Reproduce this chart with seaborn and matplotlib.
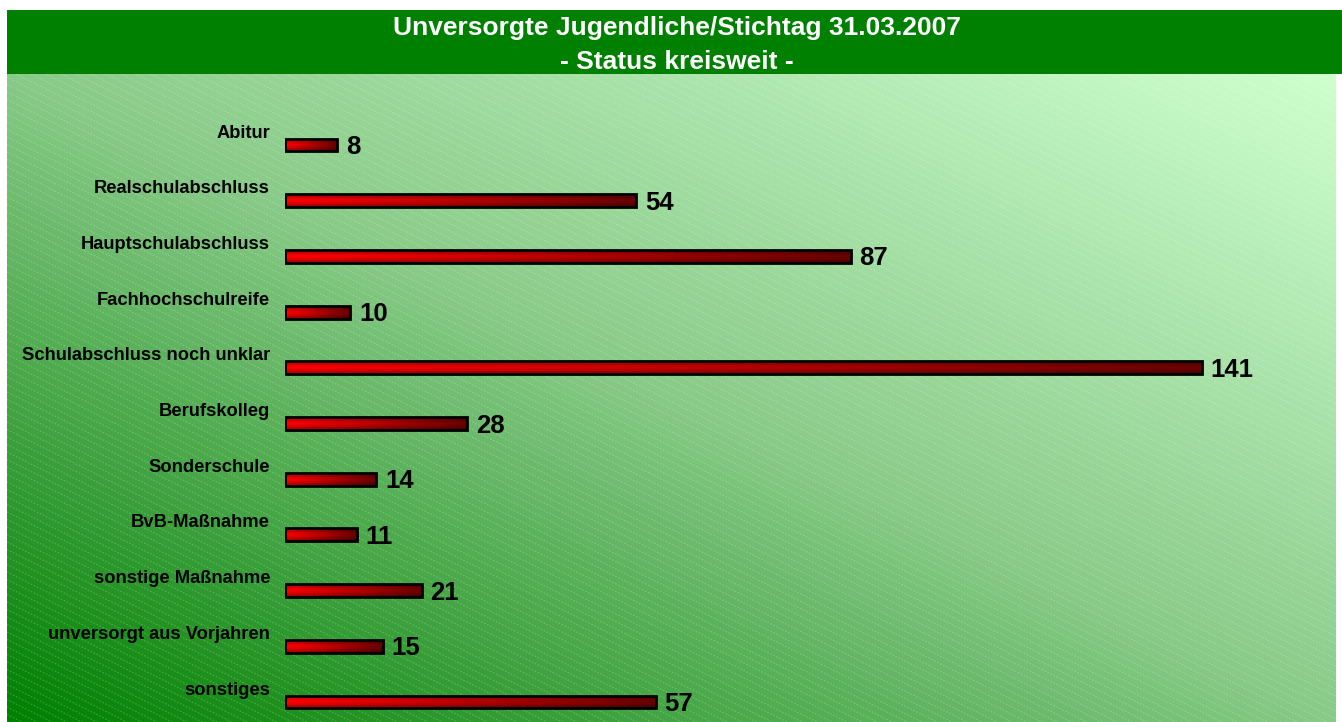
import numpy as np
import pandas as pd
import matplotlib
matplotlib.use("Agg")
import matplotlib.pyplot as plt
import seaborn as sns
from matplotlib.colors import LinearSegmentedColormap

# data
categories = ["Abitur", "Realschulabschluss", "Hauptschulabschluss", "Fachhochschulreife",
              "Schulabschluss noch unklar", "Berufskolleg", "Sonderschule", "BvB-Maßnahme",
              "sonstige Maßnahme", "unversorgt aus Vorjahren", "sonstiges"]
values = [8, 54, 87, 10, 141, 28, 14, 11, 21, 15, 57]
title_lines = ["Unversorgte Jugendliche/Stichtag 31.03.2007", "- Status kreisweit -"]

df = pd.DataFrame({"Kategorie": categories, "Anzahl": values})

sns.set_style("white")
plt.rcParams["font.family"] = ["Liberation Sans", "DejaVu Sans"]

W, H = 1342, 722
fig = plt.figure(figsize=(W / 100, H / 100), dpi=100)
fig.patch.set_facecolor("white")

# ---------- title banner ----------
banner = fig.add_axes([7 / W, 1 - 74 / H, 1 - 7 / W, 64 / H])
banner.set_facecolor("#008000")
banner.set_xticks([]); banner.set_yticks([])
for s in banner.spines.values():
    s.set_visible(False)
banner.text(0.502, 0.72, title_lines[0], color="white", fontsize=19, fontweight="bold",
            ha="center", va="center", transform=banner.transAxes)
banner.text(0.502, 0.19, title_lines[1], color="white", fontsize=19, fontweight="bold",
            ha="center", va="center", transform=banner.transAxes)

# ---------- gradient background with diagonal hatch ----------
bw, bh = 1336 - 7, 722 - 74
bg = fig.add_axes([7 / W, 0, bw / W, bh / H])
bg_cmap = LinearSegmentedColormap.from_list(
    "bg", [(0.0, (0 / 255, 128 / 255, 0 / 255)),
           (0.5, (136 / 255, 202 / 255, 136 / 255)),
           (1.0, (206 / 255, 255 / 255, 206 / 255))])
gx, gy = np.meshgrid(np.linspace(0, 1, 400), np.linspace(0, 1, 200))
grad = (gx + gy) / 2
bg.imshow(grad, cmap=bg_cmap, origin="lower", extent=[0, bw, 0, bh], aspect="auto")
for c in np.arange(0, bh + bw * 0.5 + 10, 7.5):
    xs = np.array([0, bw])
    bg.plot(xs, c - 0.5 * xs, color="white", alpha=0.22, lw=0.8, ls=(0, (1.5, 1.5)))
bg.set_xlim(0, bw)
bg.set_ylim(0, bh)
bg.axis("off")

# ---------- bars ----------
ax = fig.add_axes([285 / W, 0, (1336 - 285) / W, bh / H])
ax.patch.set_alpha(0)
sns.barplot(data=df, x="Anzahl", y="Kategorie", orient="h", width=0.23,
            color="red", edgecolor="black", linewidth=2, ax=ax)
step = 55.7
xmax = (1336 - 285) / 6.5
ylims = ((722 - 145) / step, (74 - 145) / step)

# left-to-right red -> dark red, with a light band in the middle (tube look)
bar_cmap = LinearSegmentedColormap.from_list(
    "bar", [(0.0, "#ff0000"), (0.35, "#d00000"), (1.0, "#6a0000")])
horiz = bar_cmap(np.linspace(0, 1, 256))[:, :3]
vert = 1 - 0.45 * np.abs(np.linspace(-1, 1, 32)) ** 1.6
bar_img = horiz[None, :, :] * vert[:, None, None]
for p in ax.patches:
    x0, y0 = p.get_x(), p.get_y()
    w, h = p.get_width(), p.get_height()
    im = ax.imshow(bar_img, extent=[x0, x0 + w, y0 + h, y0],
                   aspect="auto", zorder=2, interpolation="bilinear")
    im.set_clip_path(p)
    p.set_facecolor("none")
    p.set_zorder(3)
ax.set_xlim(0, xmax)
ax.set_ylim(*ylims)

for i, (cat, v) in enumerate(zip(categories, values)):
    ax.annotate(cat, xy=(0, i), xytext=(-15, 12), textcoords="offset pixels",
                ha="right", va="center", fontsize=13.2, fontweight="bold", color="black",
                annotation_clip=False)
    ax.annotate(str(v), xy=(v, i), xytext=(9, -2), textcoords="offset pixels",
                ha="left", va="center", fontsize=18.5, fontweight="bold", color="black",
                annotation_clip=False)

ax.set_xlabel("")
ax.set_ylabel("")
ax.set_xticks([])
ax.set_yticks([])
for s in ax.spines.values():
    s.set_visible(False)

fig.savefig("out.png", dpi=100)
